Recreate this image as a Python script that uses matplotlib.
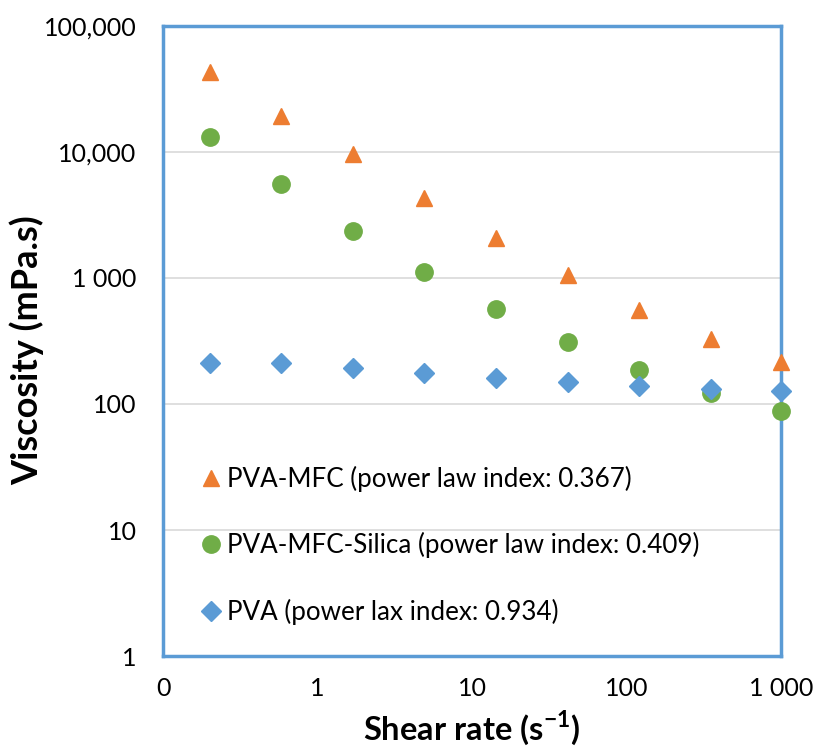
import matplotlib
matplotlib.use("Agg")
import matplotlib.pyplot as plt
from matplotlib.ticker import FixedLocator, FixedFormatter, NullLocator

plt.rcParams['font.family'] = ['Lato', 'DejaVu Sans']
plt.rcParams['mathtext.fontset'] = 'custom'
plt.rcParams['mathtext.bf'] = 'Lato:bold'
plt.rcParams['mathtext.rm'] = 'Lato'

# data
shear_rate = [0.2, 0.58, 1.7, 4.9, 14.3, 41.8, 121, 352, 1000]
visc_mfc = [43000, 19300, 9600, 4300, 2070, 1060, 557, 328, 215]
visc_silica = [13100, 5570, 2360, 1110, 567, 310, 186, 122, 88]
visc_pva = [211, 211, 193, 176, 161, 150, 139, 131, 127]

labels = ['PVA-MFC (power law index: 0.367)',
          'PVA-MFC-Silica (power law index: 0.409)',
          'PVA (power lax index: 0.934)']

x_ticks = [0.1, 1, 10, 100, 1000]
x_ticklabels = ['0', '1', '10', '100', '1 000']
y_ticks = [1, 10, 100, 1000, 10000, 100000]
y_ticklabels = ['1', '10', '100', '1 000', '10,000', '100,000']

orange = '#ED7D31'
green = '#70AD47'
blue = '#5B9BD5'

fig = plt.figure(figsize=(8.13, 7.53), dpi=100)
ax = fig.add_axes([0.2005, 0.1288, 0.7601, 0.8367])

ax.plot(shear_rate, visc_mfc, linestyle='none', marker='^', ms=11.5,
        color=orange, label=labels[0], zorder=3, clip_on=False)
ax.plot(shear_rate, visc_silica, linestyle='none', marker='o', ms=12.5,
        color=green, label=labels[1], zorder=3, clip_on=False)
ax.plot(shear_rate, visc_pva, linestyle='none', marker='D', ms=10,
        color=blue, label=labels[2], zorder=4, clip_on=False)

ax.set_xscale('log')
ax.set_yscale('log')
ax.set_xlim(0.1, 1000)
ax.set_ylim(1, 100000)

ax.xaxis.set_major_locator(FixedLocator(x_ticks))
ax.xaxis.set_major_formatter(FixedFormatter(x_ticklabels))
ax.xaxis.set_minor_locator(NullLocator())
ax.yaxis.set_major_locator(FixedLocator(y_ticks))
ax.yaxis.set_major_formatter(FixedFormatter(y_ticklabels))
ax.yaxis.set_minor_locator(NullLocator())

ax.tick_params(axis='both', length=0, labelsize=18, colors='black')
ax.tick_params(axis='x', pad=15)
ax.tick_params(axis='y', pad=19)

ax.yaxis.grid(True, color='#D9D9D9', linewidth=1.2)
ax.set_axisbelow(True)
for s in ax.spines.values():
    s.set_color(blue)
    s.set_linewidth(2.5)

ax.set_xlabel('Shear rate (s$^{\\mathbf{-1}}$)', fontsize=23.5, fontweight='bold', labelpad=6)
ax.set_ylabel('Viscosity (mPa.s)', fontsize=26, fontweight='bold')
ax.yaxis.set_label_coords(-0.192, 0.485)

ax.legend(loc='lower left', bbox_to_anchor=(0.028, 0.021), frameon=False,
          fontsize=18.7, handletextpad=0.1, labelspacing=1.55, handlelength=1.0,
          borderpad=0.2)

fig.savefig('out.png', dpi=100)
